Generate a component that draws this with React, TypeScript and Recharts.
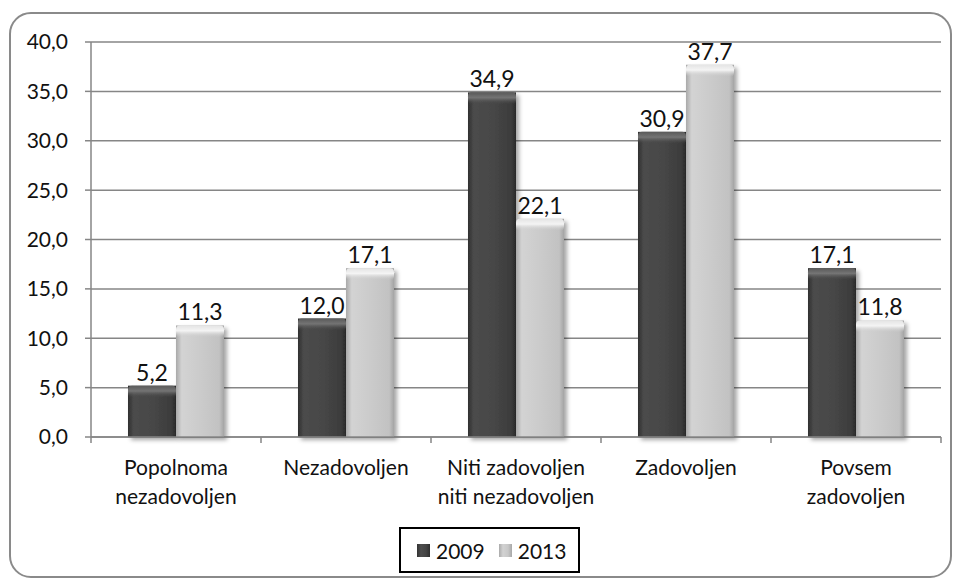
import { BarChart, Bar, XAxis, YAxis, CartesianGrid, Legend, LabelList } from "recharts";

const categories = [
  "Popolnoma\nnezadovoljen",
  "Nezadovoljen",
  "Niti zadovoljen\nniti nezadovoljen",
  "Zadovoljen",
  "Povsem\nzadovoljen",
];
const values2009 = [5.2, 12.0, 34.9, 30.9, 17.1];
const values2013 = [11.3, 17.1, 22.1, 37.7, 11.8];
const yTicks = [0, 5, 10, 15, 20, 25, 30, 35, 40];

const FONT = "Lato, 'Open Sans', sans-serif";
const GRID = "#868686";

const data = categories.map((name, i) => ({
  name,
  y2009: values2009[i],
  y2013: values2013[i],
}));

const fmt = (v: number) => v.toFixed(1).replace(".", ",");

function GlassBar(props: any) {
  const { x, y, width, height, tone } = props;
  if (!height || height <= 0) return null;
  const cap = Math.min(12, height);
  return (
    <g filter="url(#barShadow)">
      <rect x={x} y={y} width={width} height={height} fill={`url(#${tone}Body)`} />
      <rect x={x} y={y} width={width} height={cap} rx={4} ry={4} fill={`url(#${tone}Cap)`} />
    </g>
  );
}

function CategoryTick(props: any) {
  const { x, y, payload, index, visibleTicksCount } = props;
  const lines = String(payload.value).split("\n");
  const half = payload.offset ?? 85;
  const last = index === visibleTicksCount - 1;
  return (
    <g>
      <line x1={x - half} x2={x - half} y1={y - 6} y2={y} stroke={GRID} strokeWidth={1.5} />
      {last && <line x1={x + half} x2={x + half} y1={y - 6} y2={y} stroke={GRID} strokeWidth={1.5} />}
      <text x={x} y={y} textAnchor="middle" fill="#111" fontSize={21} fontFamily={FONT}>
        {lines.map((l, i) => (
          <tspan key={i} x={x} dy={i === 0 ? 32 : 29}>
            {l}
          </tspan>
        ))}
      </text>
    </g>
  );
}

function Swatch({ tone }: { tone: string }) {
  const bg =
    tone === "dark"
      ? "linear-gradient(90deg,#333,#4d4d4d 30%,#444 70%,#2e2e2e)"
      : "linear-gradient(90deg,#aaa,#d2d2d2 30%,#c8c8c8 70%,#a8a8a8)";
  return <span style={{ display: "inline-block", width: 13, height: 13, background: bg }} />;
}

function LegendBox() {
  return (
    <div
      style={{
        boxSizing: "border-box",
        width: 181,
        height: 46,
        border: "2px solid #000",
        display: "flex",
        alignItems: "center",
        paddingLeft: 16,
        fontFamily: FONT,
        fontSize: 21,
        color: "#111",
      }}
    >
      <Swatch tone="dark" />
      <span style={{ marginLeft: 6, marginRight: 14 }}>2009</span>
      <Swatch tone="light" />
      <span style={{ marginLeft: 6 }}>2013</span>
    </div>
  );
}

export default function App() {
  return (
    <div style={{ position: "absolute", left: 0, top: 0, width: 955, height: 581, background: "#fff" }}>
      <div
        style={{
          position: "absolute",
          left: 9,
          top: 12,
          width: 943,
          height: 566,
          boxSizing: "border-box",
          border: "2px solid #8a8a8a",
          borderRadius: 22,
        }}
      />
      <BarChart
        width={955}
        height={581}
        data={data}
        margin={{ top: 42, right: 14, bottom: 8, left: 0 }}
        barSize={48}
        barGap={0}
        style={{ position: "absolute", left: 0, top: 0 }}
      >
        <defs>
          <linearGradient id="darkBody" x1="0" y1="0" x2="1" y2="0">
            <stop offset="0%" stopColor="#2f2f2f" />
            <stop offset="12%" stopColor="#4c4c4c" />
            <stop offset="55%" stopColor="#464646" />
            <stop offset="90%" stopColor="#3c3c3c" />
            <stop offset="100%" stopColor="#2a2a2a" />
          </linearGradient>
          <linearGradient id="lightBody" x1="0" y1="0" x2="1" y2="0">
            <stop offset="0%" stopColor="#a9a9a9" />
            <stop offset="12%" stopColor="#d3d3d3" />
            <stop offset="55%" stopColor="#cacaca" />
            <stop offset="90%" stopColor="#c2c2c2" />
            <stop offset="100%" stopColor="#a4a4a4" />
          </linearGradient>
          <linearGradient id="darkCap" x1="0" y1="0" x2="0" y2="1">
            <stop offset="0%" stopColor="#5a5a5a" />
            <stop offset="45%" stopColor="#747474" />
            <stop offset="100%" stopColor="#474747" stopOpacity={0} />
          </linearGradient>
          <linearGradient id="lightCap" x1="0" y1="0" x2="0" y2="1">
            <stop offset="0%" stopColor="#e4e4e4" />
            <stop offset="45%" stopColor="#f4f4f4" />
            <stop offset="100%" stopColor="#cacaca" stopOpacity={0} />
          </linearGradient>
          <filter id="barShadow" x="-20%" y="-10%" width="150%" height="130%">
            <feDropShadow dx={3} dy={3} stdDeviation={2.2} floodColor="#000" floodOpacity={0.35} />
          </filter>
        </defs>
        <CartesianGrid vertical={false} stroke={GRID} strokeWidth={1.5} />
        <XAxis
          dataKey="name"
          height={90}
          interval={0}
          tickSize={6}
          tickMargin={0}
          tickLine={false}
          axisLine={{ stroke: GRID, strokeWidth: 1.5 }}
          tick={<CategoryTick />}
        />
        <YAxis
          width={91}
          domain={[0, 40]}
          ticks={yTicks}
          interval={0}
          tickSize={6}
          tickMargin={17}
          tickFormatter={fmt}
          tickLine={{ stroke: GRID, strokeWidth: 1.5 }}
          axisLine={{ stroke: GRID, strokeWidth: 1.5 }}
          tick={{ fill: "#111", fontSize: 21, fontFamily: FONT }}
        />
        <Legend
          verticalAlign="bottom"
          content={<LegendBox />}
          wrapperStyle={{ left: 399, bottom: 8, width: 181, height: 46 }}
        />
        <Bar dataKey="y2009" name="2009" shape={<GlassBar tone="dark" />} isAnimationActive={false}>
          <LabelList dataKey="y2009" position="top" offset={5} formatter={(v: any) => fmt(Number(v))} fill="#111" fontSize={23} fontFamily={FONT} />
        </Bar>
        <Bar dataKey="y2013" name="2013" shape={<GlassBar tone="light" />} isAnimationActive={false}>
          <LabelList dataKey="y2013" position="top" offset={5} formatter={(v: any) => fmt(Number(v))} fill="#111" fontSize={23} fontFamily={FONT} />
        </Bar>
      </BarChart>
    </div>
  );
}
